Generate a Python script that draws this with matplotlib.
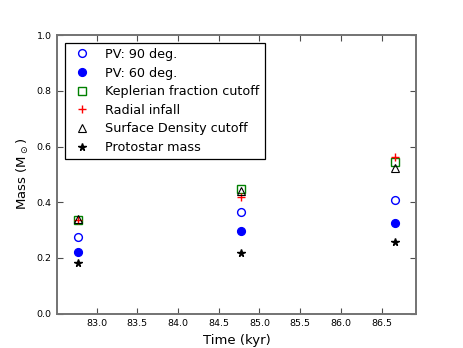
import matplotlib
matplotlib.use("Agg")
from matplotlib import pyplot as plt

# times of the three snapshots (kyr)
times = [82.77, 84.77, 86.67]

# masses (Msun) for each method
pv90 = [0.276, 0.363, 0.408]
pv60 = [0.220, 0.297, 0.324]
kepler = [0.336, 0.447, 0.543]
radial = [0.335, 0.417, 0.561]
surface = [0.340, 0.441, 0.523]
protostar = [0.180, 0.216, 0.256]

xticks = [83.0, 83.5, 84.0, 84.5, 85.0, 85.5, 86.0, 86.5]
yticks = [0.0, 0.2, 0.4, 0.6, 0.8, 1.0]

fig = plt.figure(figsize=(4.63, 3.48), dpi=100)
ax = fig.add_axes([0.124, 0.099, 0.774, 0.800])

ms = 5.6
ax.plot(times, pv90, 'o', mfc='none', mec='b', mew=1.0, ms=ms, label='PV: 90 deg.')
ax.plot(times, pv60, 'o', mfc='b', mec='b', ms=ms, label='PV: 60 deg.')
ax.plot(times, kepler, 's', mfc='none', mec='g', mew=1.0, ms=ms,
        label='Keplerian fraction cutoff')
ax.plot(times, radial, '+', color='r', mew=1.0, ms=ms, label='Radial infall')
ax.plot(times, surface, '^', mfc='none', mec='k', mew=0.8, ms=ms,
        label='Surface Density cutoff')
ax.plot(times, protostar, '*', color='k', ms=ms, label='Protostar mass')

ax.set_xlim(times[0] - 0.25, times[-1] + 0.25)
ax.set_ylim(0.0, 1.0)
ax.set_xticks(xticks)
ax.set_xticklabels(['%.1f' % t for t in xticks])
ax.set_yticks(yticks)
ax.set_yticklabels(['%.1f' % t for t in yticks])

ax.tick_params(axis='both', which='major', direction='in', top=True, right=True,
               length=4, width=0.8, labelsize=6.8, color='0.3', pad=4)
for sp in ax.spines.values():
    sp.set_color('0.45')
    sp.set_linewidth(1.4)

ax.set_xlabel('Time (kyr)', fontsize=9.5)
ax.set_ylabel(r'Mass (M$_\odot$)', fontsize=9.5)

leg = ax.legend(loc='upper left', numpoints=1, fontsize=9.2, fancybox=False,
                edgecolor='k', framealpha=1.0, borderaxespad=0.6,
                handlelength=1.8, handletextpad=0.95, labelspacing=0.44)
leg.get_frame().set_linewidth(0.9)

fig.savefig('out.png', dpi=100, facecolor='white')
